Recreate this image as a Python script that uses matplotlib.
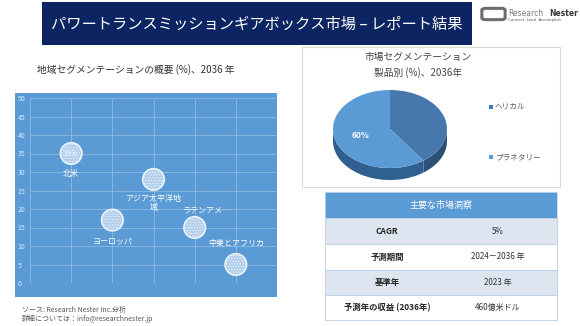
import matplotlib
matplotlib.use("Agg")
import matplotlib.pyplot as plt
import numpy as np
from matplotlib.patches import Rectangle, FancyBboxPatch

plt.rcParams['font.family'] = ['Noto Sans CJK JP', 'DejaVu Sans']
plt.rcParams['hatch.color'] = "#d2e3f4"
plt.rcParams['hatch.linewidth'] = 0.5

# ---------------- data ----------------
main_title = "パワートランスミッションギアボックス市場 – レポート結果"
bubble_title = "地域セグメンテーションの概要 (%)、2036 年"
regions = ["北米", "ヨーロッパ", "アジア太平洋地\n域", "ラテンアメ‥", "中東とアフリカ"]
region_x = [1, 2, 3, 4, 5]
region_share = [35, 17, 28, 15, 5]
region_label_text = ["35%", "", "", "", ""]
y_ticks = [0, 5, 10, 15, 20, 25, 30, 35, 40, 45, 50]

pie_title = "市場セグメンテーション\n製品別 (%)、2036年"
products = ["ヘリカル", "プラネタリー"]
product_share = [40, 60]

table_header = "主要な市場洞察"
table_keys = ["CAGR", "予測期間", "基準年", "予測年の収益 (2036年)"]
table_values = ["5%", "2024－2036 年", "2023 年", "460億米ドル"]

source_lines = ["ソース: Research Nester Inc.分析", "詳細については：info@researchnester.jp"]

# ---------------- figure ----------------
W, H = 580, 326
fig = plt.figure(figsize=(W / 100, H / 100), dpi=100)
fig.patch.set_facecolor("white")


def fx(x):
    return x / W


def fy(y):
    return 1 - y / H


def rect_px(x0, y0, x1, y1, zorder=-5, **kw):
    r = Rectangle((fx(x0), fy(y1)), fx(x1) - fx(x0), fy(y0) - fy(y1),
                  transform=fig.transFigure, zorder=zorder, **kw)
    fig.add_artist(r)
    return r


# banner
rect_px(42, 2, 472, 45, facecolor="#0c2461", edgecolor="none")
fig.text(fx(257), fy(24), main_title, color="white", fontsize=11,
         ha="center", va="center")

# logo
logo = FancyBboxPatch((fx(483), fy(19)), fx(21), fy(9) - fy(19),
                      boxstyle="round,pad=0.002,rounding_size=0.006",
                      transform=fig.transFigure, facecolor="none",
                      edgecolor="#6d6d6d", linewidth=2.2)
fig.add_artist(logo)
fig.text(fx(508), fy(13), "Research", color="#808080", fontsize=5.5,
         ha="left", va="center", family="DejaVu Sans")
fig.text(fx(578), fy(13), "Nester", color="#3a3a3a", fontsize=5.5,
         ha="right", va="center", fontweight="bold", family="DejaVu Sans")
fig.text(fx(508), fy(20.5), "Connect. Lead. Accomplish", color="#555555",
         fontsize=2.8, ha="left", va="center", family="DejaVu Sans")

# ---------------- bubble chart ----------------
fig.text(fx(136), fy(70), bubble_title, color="#333333", fontsize=7,
         ha="center", va="center")
rect_px(15, 93, 277, 297, facecolor="#5b9bd5", edgecolor="none")

ax = fig.add_axes([fx(30), fy(283), fx(277) - fx(30), fy(98) - fy(283)])
ax.set_facecolor("none")
ax.set_xlim(0, 6)
ax.set_ylim(0, 50)
ax.set_xticks(range(0, 7))
ax.set_yticks(y_ticks)
ax.set_xticklabels([])
ax.tick_params(axis="both", length=0)
ax.tick_params(axis="y", labelsize=5, labelcolor="#d6e6f5", pad=9)
for lbl in ax.get_yticklabels():
    lbl.set_horizontalalignment("left")
ax.grid(True, color="#86b6e2", linewidth=0.7)
ax.set_axisbelow(True)
for s in ax.spines.values():
    s.set_visible(False)

ax.scatter(region_x, region_share, s=240, facecolor="#b3cfec",
           edgecolor="#eaf3fb", linewidth=1.2, hatch="......", zorder=3)

offsets = [(0, -20), (0, -21), (0, -24), (12, 18), (0, 21)]
for x, y, name, lab, off in zip(region_x, region_share, regions,
                                region_label_text, offsets):
    if lab:
        ax.text(x, y, lab, color="#eef5fc", fontsize=5, ha="center",
                va="center", zorder=4)
    ax.annotate(name, (x, y), xytext=off, textcoords="offset pixels",
                color="white", fontsize=5.8, ha="center", va="center",
                linespacing=1.0, zorder=4)

for i, line in enumerate(source_lines):
    fig.text(fx(22), fy(310 + i * 9), line, color="#555555", fontsize=5,
             ha="left", va="center", style="italic")

# ---------------- pie chart ----------------
rect_px(302, 47, 560, 187, facecolor="white", edgecolor="#d9d9d9",
        linewidth=0.8)
fig.text(fx(418), fy(65), pie_title, color="#444444", fontsize=7,
         ha="center", va="center", linespacing=1.6)

cx, cy, rx, ry = 390, 129, 57, 39
pax = fig.add_axes([fx(320), fy(185), fx(460) - fx(320), fy(85) - fy(185)])
pax.set_facecolor("none")

top_colors = ["#4677ad", "#5b9bd5"]
side_colors = ["#2c5076", "#30608f"]
depth = 12 / ry

# angles (clockwise from 90)
fracs = np.array(product_share) / sum(product_share)
starts = 90 - 360 * np.concatenate([[0], np.cumsum(fracs)[:-1]])
ends = starts - 360 * fracs
for a0, a1, col in zip(starts, ends, side_colors):
    lo, hi = min(a0, a1), max(a0, a1)
    for base in (-360, 0, 360):
        f0 = max(lo, 180 + base)
        f1 = min(hi, 360 + base)
        if f1 > f0:
            t = np.radians(np.linspace(f0, f1, 80))
            xs = np.concatenate([np.cos(t), np.cos(t[::-1])])
            ys = np.concatenate([np.sin(t), np.sin(t[::-1]) - depth])
            pax.fill(xs, ys, color=col, linewidth=0)

wedges, _ = pax.pie(product_share, colors=top_colors, startangle=90,
                    counterclock=False, radius=1.0,
                    wedgeprops=dict(linewidth=0))
pax.set_aspect("auto")
pax.set_xlim((320 - cx) / rx, (460 - cx) / rx)
pax.set_ylim(-(185 - cy) / ry, (cy - 85) / ry)
pax.axis("off")

mid = np.radians((starts[1] + ends[1]) / 2)
pax.text(0.55 * np.cos(mid), 0.55 * np.sin(mid), f"{product_share[1]}%",
         color="white", fontsize=6, fontweight="bold", ha="center",
         va="center")

for i, (name, col) in enumerate(zip(products, top_colors)):
    yy = 107 + i * 50
    rect_px(489, yy - 2, 493, yy + 2, facecolor=col, edgecolor="none")
    fig.text(fx(495), fy(yy), name, color="#595959", fontsize=5.5,
             ha="left", va="center")

# ---------------- table ----------------
tx0, tx1 = 325, 557
rows_y = [192, 218, 244, 270, 295, 320]
rect_px(tx0, rows_y[0], tx1, rows_y[1], facecolor="#5b9bd5", edgecolor="none")
fig.text(fx((tx0 + tx1) / 2), fy((rows_y[0] + rows_y[1]) / 2), table_header,
         color="white", fontsize=6.5, ha="center", va="center")
for i, (k, v) in enumerate(zip(table_keys, table_values)):
    y0, y1 = rows_y[i + 1], rows_y[i + 2]
    fc = "#dde5f1" if i % 2 == 0 else "white"
    rect_px(tx0, y0, tx1, y1, facecolor=fc, edgecolor="#b7cde8",
            linewidth=0.6)
    ym = (y0 + y1) / 2
    fig.text(fx(387), fy(ym), k, color="#222222", fontsize=6,
             fontweight="bold", ha="center", va="center")
    fig.text(fx(498), fy(ym), v, color="#333333", fontsize=5.8,
             ha="center", va="center")
rect_px(tx0, rows_y[0], tx1, rows_y[-1], facecolor="none",
        edgecolor="#c5d6ea", linewidth=0.6)

fig.savefig("out.png", dpi=100)
